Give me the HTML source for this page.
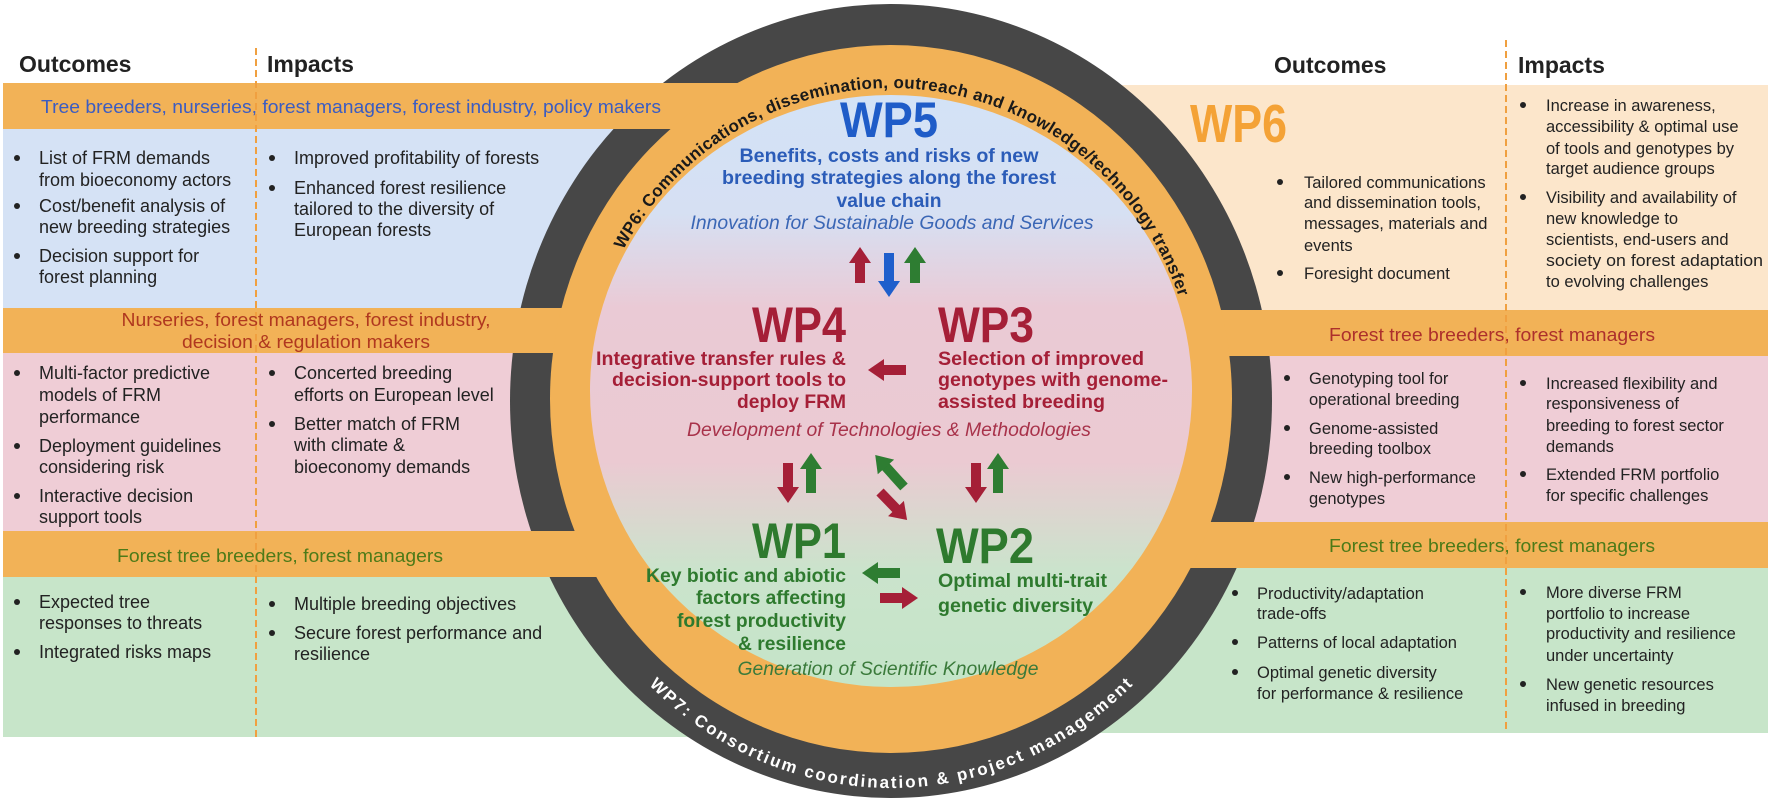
<!DOCTYPE html>
<html><head><meta charset="utf-8"><style>
html,body{margin:0;padding:0;background:#fff;}
svg{display:block;}
.b{font-family:"Liberation Sans",Arial,sans-serif;font-size:18px;fill:#222;}
.r{font-family:"Liberation Sans",Arial,sans-serif;font-size:16.5px;fill:#222;}
.h{font-family:"Liberation Sans",Arial,sans-serif;font-size:23px;font-weight:bold;fill:#222;}
.n{font-family:"Liberation Sans Narrow","Liberation Sans",Arial,sans-serif;font-weight:bold;}
.ni{font-family:"Liberation Sans Narrow","Liberation Sans",Arial,sans-serif;font-style:italic;}
</style></head><body>
<svg width="1772" height="803" viewBox="0 0 1772 803" xmlns="http://www.w3.org/2000/svg">
<defs>
<linearGradient id="g" x1="0" y1="95" x2="0" y2="687" gradientUnits="userSpaceOnUse">
<stop offset="0" stop-color="#d3e2f6"/>
<stop offset="0.2" stop-color="#d6e0f3"/>
<stop offset="0.36" stop-color="#eacad5"/>
<stop offset="0.62" stop-color="#ebcad2"/>
<stop offset="0.8" stop-color="#cbe3cc"/>
<stop offset="1" stop-color="#c4e5c8"/>
</linearGradient>
</defs>

<!-- panels -->
<rect x="3" y="129" width="800" height="179" fill="#d5e2f5"/>
<rect x="3" y="353" width="800" height="178" fill="#efcdd6"/>
<rect x="3" y="577" width="800" height="160" fill="#c7e5c9"/>
<rect x="1000" y="85" width="768" height="225" fill="#fce6cb"/>
<rect x="1000" y="356" width="768" height="166" fill="#efcdd6"/>
<rect x="1000" y="568" width="768" height="165" fill="#c7e5c9"/>

<!-- dark ring -->
<ellipse cx="891" cy="401" rx="381" ry="397" fill="#474747"/>
<!-- orange bands -->
<rect x="3" y="83" width="900" height="46" fill="#f2b257"/>
<rect x="3" y="308" width="900" height="45" fill="#f2b257"/>
<rect x="3" y="531" width="900" height="46" fill="#f2b257"/>
<rect x="880" y="310" width="888" height="46" fill="#f2b257"/>
<rect x="880" y="522" width="888" height="46" fill="#f2b257"/>
<!-- orange ring -->
<ellipse cx="891" cy="399" rx="341" ry="354" fill="#f2b257"/>
<!-- inner -->
<ellipse cx="891" cy="391" rx="301" ry="296" fill="url(#g)"/>

<!-- dividers -->
<line x1="256" y1="48" x2="256" y2="737" stroke="#f0a040" stroke-width="2" stroke-dasharray="7,4"/>
<line x1="1506" y1="40" x2="1506" y2="733" stroke="#f0a040" stroke-width="2" stroke-dasharray="7,4"/>

<!-- ring texts -->
<path id="tp" d="M 587 396 A 304 308 0 0 1 1195 396" fill="none"/>
<text class="n" font-size="17" fill="#1a1a1a"><textPath href="#tp" startOffset="152" textLength="708" lengthAdjust="spacing">WP6: Communications, dissemination, outreach and knowledge/technology transfer</textPath></text>
<path id="bp" d="M 535 401 A 356 387 0 0 0 1247 401" fill="none"/>
<text class="n" font-size="17" fill="#fff" text-anchor="middle"><textPath href="#bp" startOffset="50%" textLength="540" lengthAdjust="spacing">WP7: Consortium coordination &amp; project management</textPath></text>

<!-- headers -->
<text class="h" x="19" y="72">Outcomes</text>
<text class="h" x="267" y="72">Impacts</text>
<text class="h" x="1274" y="73">Outcomes</text>
<text class="h" x="1518" y="73">Impacts</text>

<!-- band texts -->
<g font-family="Liberation Sans, Arial, sans-serif" font-size="18.5">
<text x="41" y="113" fill="#3b5cc2" textLength="620" lengthAdjust="spacingAndGlyphs">Tree breeders, nurseries, forest managers, forest industry, policy makers</text>
<text x="306" y="326" fill="#b0381f" text-anchor="middle" textLength="369" lengthAdjust="spacingAndGlyphs">Nurseries, forest managers, forest industry,</text>
<text x="306" y="348" fill="#b0381f" text-anchor="middle" textLength="248" lengthAdjust="spacingAndGlyphs">decision &amp; regulation makers</text>
<text x="280" y="562" fill="#4d7a18" text-anchor="middle" textLength="326" lengthAdjust="spacingAndGlyphs">Forest tree breeders, forest managers</text>
<text x="1492" y="341" fill="#ad302c" text-anchor="middle" textLength="326" lengthAdjust="spacingAndGlyphs">Forest tree breeders, forest managers</text>
<text x="1492" y="552" fill="#4d7a18" text-anchor="middle" textLength="326" lengthAdjust="spacingAndGlyphs">Forest tree breeders, forest managers</text>
</g>

<!-- left panel text -->
<g fill="#222">
<circle cx="17" cy="158" r="3"/><circle cx="17" cy="206" r="3"/><circle cx="17" cy="256" r="3"/>
<circle cx="272" cy="158" r="3"/><circle cx="272" cy="188" r="3"/>
<circle cx="17" cy="373" r="3"/><circle cx="17" cy="446" r="3"/><circle cx="17" cy="496" r="3"/>
<circle cx="272" cy="373" r="3"/><circle cx="272" cy="424" r="3"/>
<circle cx="17" cy="602" r="3"/><circle cx="17" cy="652" r="3"/>
<circle cx="272" cy="604" r="3"/><circle cx="272" cy="633" r="3"/>
</g>
<g>
<text class="b" x="39" y="164">List of FRM demands</text>
<text class="b" x="39" y="186">from bioeconomy actors</text>
<text class="b" x="39" y="212">Cost/benefit analysis of</text>
<text class="b" x="39" y="233">new breeding strategies</text>
<text class="b" x="39" y="262">Decision support for</text>
<text class="b" x="39" y="283">forest planning</text>
<text class="b" x="294" y="164">Improved profitability of forests</text>
<text class="b" x="294" y="194">Enhanced  forest resilience</text>
<text class="b" x="294" y="215">tailored to the diversity of</text>
<text class="b" x="294" y="236">European forests</text>
<text class="b" x="39" y="379">Multi-factor predictive</text>
<text class="b" x="39" y="401">models of FRM</text>
<text class="b" x="39" y="423">performance</text>
<text class="b" x="39" y="452">Deployment guidelines</text>
<text class="b" x="39" y="473">considering risk</text>
<text class="b" x="39" y="502">Interactive decision</text>
<text class="b" x="39" y="523">support tools</text>
<text class="b" x="294" y="379">Concerted breeding</text>
<text class="b" x="294" y="401">efforts on European level</text>
<text class="b" x="294" y="430">Better match of FRM</text>
<text class="b" x="294" y="451">with climate &amp;</text>
<text class="b" x="294" y="473">bioeconomy demands</text>
<text class="b" x="39" y="608">Expected tree</text>
<text class="b" x="39" y="629">responses to threats</text>
<text class="b" x="39" y="658">Integrated risks maps</text>
<text class="b" x="294" y="610">Multiple breeding objectives</text>
<text class="b" x="294" y="639">Secure forest performance and</text>
<text class="b" x="294" y="660">resilience</text>
</g>

<!-- right panel text -->
<g fill="#222">
<circle cx="1280" cy="182" r="3"/><circle cx="1280" cy="273" r="3"/>
<circle cx="1523" cy="105" r="3"/><circle cx="1523" cy="197" r="3"/>
<circle cx="1287" cy="378" r="3"/><circle cx="1287" cy="428" r="3"/><circle cx="1287" cy="477" r="3"/>
<circle cx="1523" cy="383" r="3"/><circle cx="1523" cy="474" r="3"/>
<circle cx="1235" cy="593" r="3"/><circle cx="1235" cy="642" r="3"/><circle cx="1235" cy="672" r="3"/>
<circle cx="1523" cy="592" r="3"/><circle cx="1523" cy="684" r="3"/>
</g>
<g>
<text class="r" x="1304" y="188">Tailored communications</text>
<text class="r" x="1304" y="208">and dissemination tools,</text>
<text class="r" x="1304" y="229">messages, materials and</text>
<text class="r" x="1304" y="251">events</text>
<text class="r" x="1304" y="279">Foresight document</text>
<text class="r" x="1546" y="111">Increase in awareness,</text>
<text class="r" x="1546" y="132">accessibility &amp; optimal use</text>
<text class="r" x="1546" y="154">of tools and genotypes by</text>
<text class="r" x="1546" y="174">target audience groups</text>
<text class="r" x="1546" y="203">Visibility and availability of</text>
<text class="r" x="1546" y="224">new knowledge to</text>
<text class="r" x="1546" y="245">scientists, end-users and</text>
<text class="r" x="1546" y="266" textLength="217" lengthAdjust="spacingAndGlyphs">society on forest adaptation</text>
<text class="r" x="1546" y="287">to evolving challenges</text>
<text class="r" x="1309" y="384">Genotyping tool for</text>
<text class="r" x="1309" y="405">operational breeding</text>
<text class="r" x="1309" y="434">Genome-assisted</text>
<text class="r" x="1309" y="454">breeding toolbox</text>
<text class="r" x="1309" y="483">New high-performance</text>
<text class="r" x="1309" y="504">genotypes</text>
<text class="r" x="1546" y="389">Increased flexibility and</text>
<text class="r" x="1546" y="409">responsiveness of</text>
<text class="r" x="1546" y="431">breeding to forest sector</text>
<text class="r" x="1546" y="452">demands</text>
<text class="r" x="1546" y="480">Extended FRM portfolio</text>
<text class="r" x="1546" y="501">for specific challenges</text>
<text class="r" x="1257" y="599">Productivity/adaptation</text>
<text class="r" x="1257" y="619">trade-offs</text>
<text class="r" x="1257" y="648">Patterns of local adaptation</text>
<text class="r" x="1257" y="678">Optimal genetic diversity</text>
<text class="r" x="1257" y="699">for performance &amp; resilience</text>
<text class="r" x="1546" y="598">More diverse FRM</text>
<text class="r" x="1546" y="619">portfolio to increase</text>
<text class="r" x="1546" y="639">productivity and resilience</text>
<text class="r" x="1546" y="661">under uncertainty</text>
<text class="r" x="1546" y="690">New genetic resources</text>
<text class="r" x="1546" y="711">infused in breeding</text>
</g>

<!-- WP6 label -->
<text class="n" x="1190" y="142" font-size="54" fill="#f4a236" textLength="97" lengthAdjust="spacingAndGlyphs">WP6</text>

<!-- center: WP5 -->
<text class="n" x="840" y="137" font-size="50" fill="#1f5cc8" textLength="98" lengthAdjust="spacingAndGlyphs">WP5</text>
<g class="n" font-size="19" fill="#2b5cb8" text-anchor="middle">
<text x="889" y="162" textLength="299" lengthAdjust="spacingAndGlyphs">Benefits, costs and risks of new</text>
<text x="889" y="184" textLength="334" lengthAdjust="spacingAndGlyphs">breeding strategies along the forest</text>
<text x="889" y="207" textLength="105" lengthAdjust="spacingAndGlyphs">value chain</text>
</g>
<text class="ni" x="892" y="229" font-size="19" fill="#3a66b5" text-anchor="middle" textLength="403" lengthAdjust="spacingAndGlyphs">Innovation for Sustainable Goods and Services</text>

<!-- WP4 / WP3 -->
<text class="n" x="752" y="342" font-size="50" fill="#a51f37" textLength="94" lengthAdjust="spacingAndGlyphs">WP4</text>
<text class="n" x="938" y="342" font-size="50" fill="#a51f37" textLength="96" lengthAdjust="spacingAndGlyphs">WP3</text>
<g class="n" font-size="19" fill="#a51f37">
<text x="846" y="365" text-anchor="end" textLength="250" lengthAdjust="spacingAndGlyphs">Integrative transfer rules &amp;</text>
<text x="846" y="386" text-anchor="end" textLength="234" lengthAdjust="spacingAndGlyphs">decision-support tools to</text>
<text x="846" y="408" text-anchor="end" textLength="109" lengthAdjust="spacingAndGlyphs">deploy FRM</text>
<text x="938" y="365" textLength="206" lengthAdjust="spacingAndGlyphs">Selection of improved</text>
<text x="938" y="386" textLength="230" lengthAdjust="spacingAndGlyphs">genotypes with genome-</text>
<text x="938" y="408" textLength="167" lengthAdjust="spacingAndGlyphs">assisted breeding</text>
</g>
<text class="ni" x="889" y="436" font-size="19" fill="#a8324a" text-anchor="middle" textLength="404" lengthAdjust="spacingAndGlyphs">Development of Technologies &amp; Methodologies</text>

<!-- WP1 / WP2 -->
<text class="n" x="752" y="558" font-size="50" fill="#2e7a2e" textLength="94" lengthAdjust="spacingAndGlyphs">WP1</text>
<text class="n" x="936" y="563" font-size="50" fill="#2e7a2e" textLength="98" lengthAdjust="spacingAndGlyphs">WP2</text>
<g class="n" font-size="19" fill="#2e7a2e">
<text x="846" y="582" text-anchor="end" textLength="200" lengthAdjust="spacingAndGlyphs">Key biotic and abiotic</text>
<text x="846" y="604" text-anchor="end" textLength="150" lengthAdjust="spacingAndGlyphs">factors affecting</text>
<text x="846" y="627" text-anchor="end" textLength="169" lengthAdjust="spacingAndGlyphs">forest productivity</text>
<text x="846" y="650" text-anchor="end" textLength="108" lengthAdjust="spacingAndGlyphs">&amp; resilience</text>
<text x="938" y="587" textLength="169" lengthAdjust="spacingAndGlyphs">Optimal multi-trait</text>
<text x="938" y="612" textLength="155" lengthAdjust="spacingAndGlyphs">genetic diversity</text>
</g>
<text class="ni" x="888" y="675" font-size="19" fill="#3a7a3a" text-anchor="middle" textLength="301" lengthAdjust="spacingAndGlyphs">Generation of Scientific Knowledge</text>

<!-- arrows -->
<g>
<g transform="translate(860,283) rotate(-90)" fill="#a51f37"><rect x="0" y="-5" width="22" height="10"/><polygon points="20,-11 36,0 20,11"/></g>
<g transform="translate(889,253) rotate(90)" fill="#1f5fcc"><rect x="0" y="-5" width="30" height="10"/><polygon points="28,-11 44,0 28,11"/></g>
<g transform="translate(915,283) rotate(-90)" fill="#2e7d32"><rect x="0" y="-5" width="22" height="10"/><polygon points="20,-11 36,0 20,11"/></g>
<g transform="translate(906,370) rotate(180)" fill="#a51f37"><rect x="0" y="-5" width="24" height="10"/><polygon points="22,-11 38,0 22,11"/></g>
<g transform="translate(788,463) rotate(90)" fill="#a51f37"><rect x="0" y="-5" width="26" height="10"/><polygon points="24,-11 40,0 24,11"/></g>
<g transform="translate(811,493) rotate(-90)" fill="#2e7d32"><rect x="0" y="-5" width="26" height="10"/><polygon points="24,-11 40,0 24,11"/></g>
<g transform="translate(976,463) rotate(90)" fill="#a51f37"><rect x="0" y="-5" width="26" height="10"/><polygon points="24,-11 40,0 24,11"/></g>
<g transform="translate(998,493) rotate(-90)" fill="#2e7d32"><rect x="0" y="-5" width="26" height="10"/><polygon points="24,-11 40,0 24,11"/></g>
<g transform="translate(904,487) rotate(-132)" fill="#2e7d32"><rect x="0" y="-5" width="29" height="10"/><polygon points="27,-11 43,0 27,11"/></g>
<g transform="translate(880,492) rotate(46)" fill="#a51f37"><rect x="0" y="-5" width="25" height="10"/><polygon points="23,-11 39,0 23,11"/></g>
<g transform="translate(900,573) rotate(180)" fill="#2e7d32"><rect x="0" y="-5" width="24" height="10"/><polygon points="22,-11 38,0 22,11"/></g>
<g transform="translate(880,598)" fill="#a51f37"><rect x="0" y="-5" width="24" height="10"/><polygon points="22,-11 38,0 22,11"/></g>
</g>
</svg>
</body></html>
